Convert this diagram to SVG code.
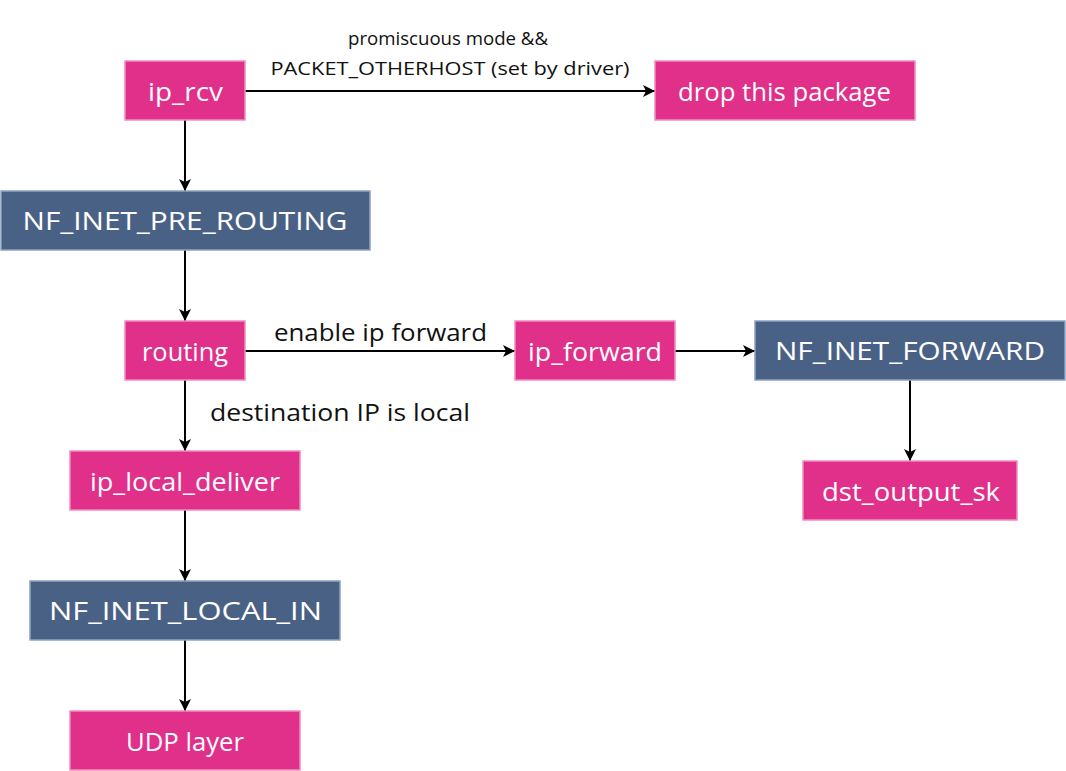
<svg xmlns="http://www.w3.org/2000/svg" width="1066" height="771" viewBox="0 0 1066 771">
<style>
  .pink { fill: #e0308a; stroke: #f08cbf; stroke-width: 1.5; }
  .blue { fill: #4a6186; stroke: #8ea2c2; stroke-width: 1.5; }
  .nt { font-family: "Open Sans", "DejaVu Sans", sans-serif; font-size: 25px; fill: #ffffff; text-anchor: middle; }
  .lbl { font-family: "Open Sans", "DejaVu Sans", sans-serif; fill: #111111; }
  .edge { stroke: #000000; stroke-width: 2; fill: none; marker-end: url(#arr); }
</style>
<defs>
  <marker id="arr" markerUnits="userSpaceOnUse" markerWidth="14" markerHeight="12" refX="12" refY="6" orient="auto">
    <path d="M0,0 L12,6 L0,12 L3,6 Z" fill="#000000"/>
  </marker>
</defs>
<rect x="0" y="0" width="1066" height="771" fill="#ffffff"/>
<g id="connectors">
  <line class="edge" x1="245" y1="91" x2="655" y2="91"/>
  <line class="edge" x1="185" y1="120" x2="185" y2="191"/>
  <line class="edge" x1="185" y1="250" x2="185" y2="321"/>
  <line class="edge" x1="245" y1="351" x2="515" y2="351"/>
  <line class="edge" x1="675" y1="351" x2="755" y2="351"/>
  <line class="edge" x1="910" y1="380" x2="910" y2="461"/>
  <line class="edge" x1="185" y1="380" x2="185" y2="451"/>
  <line class="edge" x1="185" y1="510" x2="185" y2="581"/>
  <line class="edge" x1="185" y1="640" x2="185" y2="711"/>
  <text class="lbl" x="448" y="45" font-size="18" text-anchor="middle" textLength="200" lengthAdjust="spacingAndGlyphs">promiscuous mode &amp;&amp;</text>
  <text class="lbl" x="450" y="75" font-size="18" text-anchor="middle" textLength="359" lengthAdjust="spacingAndGlyphs">PACKET_OTHERHOST (set by driver)</text>
  <text class="lbl" x="380.5" y="341" font-size="23" text-anchor="middle" textLength="213" lengthAdjust="spacingAndGlyphs">enable ip forward</text>
  <text class="lbl" x="210" y="421" font-size="23" textLength="260" lengthAdjust="spacingAndGlyphs">destination IP is local</text>
</g>
<g id="ip_rcv">
  <rect class="pink" x="125" y="61" width="120" height="59"/>
  <text class="nt" x="185.5" y="101" textLength="75" lengthAdjust="spacingAndGlyphs">ip_rcv</text>
</g>
<g id="drop_this_package">
  <rect class="pink" x="655" y="61" width="260" height="59"/>
  <text class="nt" x="784.5" y="101" textLength="213" lengthAdjust="spacingAndGlyphs">drop this package</text>
</g>
<g id="nf_inet_pre_routing">
  <rect class="blue" x="1" y="191" width="369" height="59"/>
  <text class="nt" x="185" y="230" textLength="325" lengthAdjust="spacingAndGlyphs">NF_INET_PRE_ROUTING</text>
</g>
<g id="routing">
  <rect class="pink" x="125" y="321" width="120" height="59"/>
  <text class="nt" x="185" y="361" textLength="86" lengthAdjust="spacingAndGlyphs">routing</text>
</g>
<g id="ip_forward">
  <rect class="pink" x="515" y="321" width="160" height="59"/>
  <text class="nt" x="595" y="361" textLength="134" lengthAdjust="spacingAndGlyphs">ip_forward</text>
</g>
<g id="nf_inet_forward">
  <rect class="blue" x="755" y="321" width="310" height="59"/>
  <text class="nt" x="910" y="360" textLength="270" lengthAdjust="spacingAndGlyphs">NF_INET_FORWARD</text>
</g>
<g id="dst_output_sk">
  <rect class="pink" x="803" y="461" width="214" height="59"/>
  <text class="nt" x="911" y="501" textLength="178" lengthAdjust="spacingAndGlyphs">dst_output_sk</text>
</g>
<g id="ip_local_deliver">
  <rect class="pink" x="70" y="451" width="230" height="59"/>
  <text class="nt" x="185" y="491" textLength="190" lengthAdjust="spacingAndGlyphs">ip_local_deliver</text>
</g>
<g id="nf_inet_local_in">
  <rect class="blue" x="30" y="581" width="310" height="59"/>
  <text class="nt" x="185.5" y="620" textLength="273" lengthAdjust="spacingAndGlyphs">NF_INET_LOCAL_IN</text>
</g>
<g id="udp_layer">
  <rect class="pink" x="70" y="711" width="230" height="59"/>
  <text class="nt" x="185" y="751" textLength="118" lengthAdjust="spacingAndGlyphs">UDP layer</text>
</g>
</svg>
